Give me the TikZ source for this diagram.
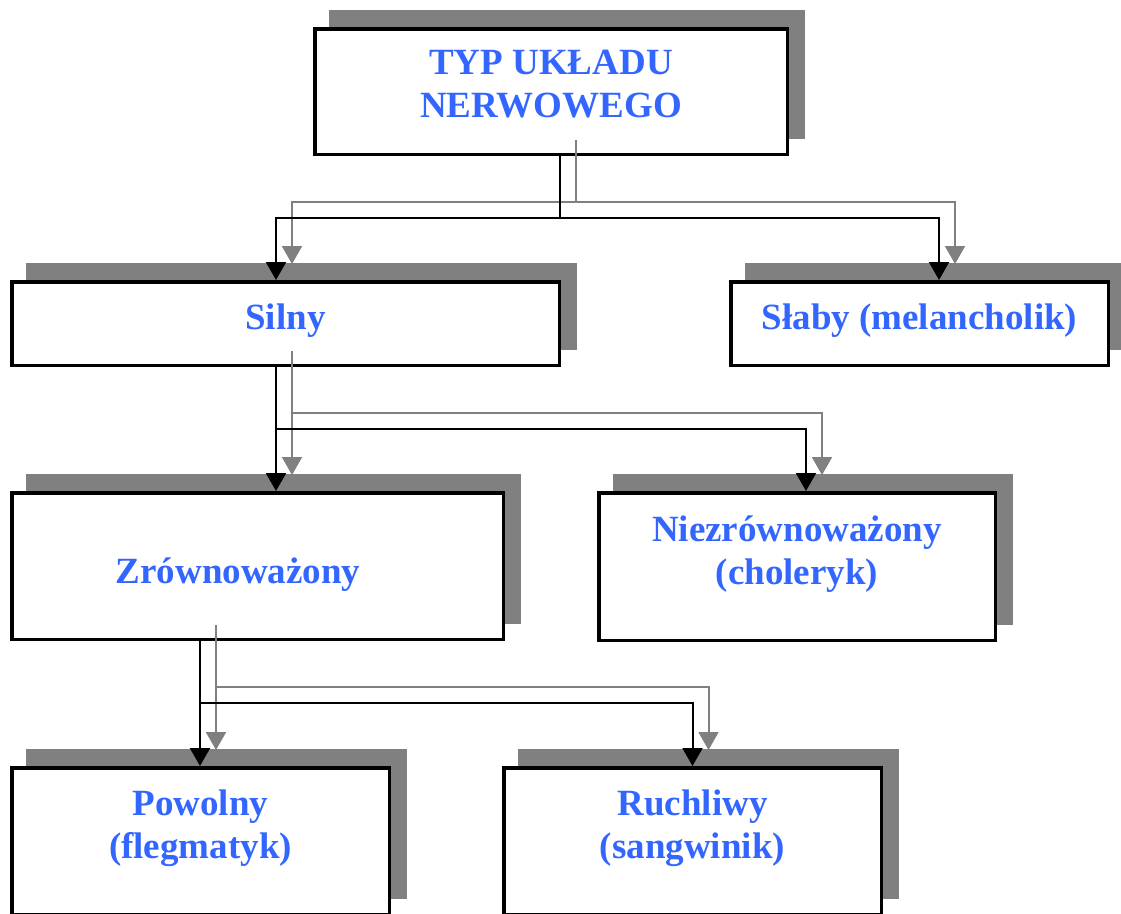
\documentclass[tikz,border=0pt]{standalone}
\usepackage{fontspec}
\setmainfont{Liberation Serif}
\usetikzlibrary{arrows.meta,shadows}
\definecolor{labelblue}{HTML}{3366FF}

\begin{document}
\begin{tikzpicture}[x=1pt,y=-1pt,
  box/.style={draw,line width=3.5pt,fill=white,inner sep=0pt,
    drop shadow={shadow xshift=16pt,shadow yshift=17pt,fill=gray,draw=gray,opacity=1}},
  txt/.style={align=center,inner sep=0pt,text=labelblue,
    font=\fontsize{37}{43}\selectfont\bfseries},
  link/.style={line width=2pt,-{Triangle[width=20pt,length=18pt]}},
  link shade/.style={link,gray,transform canvas={shift={(16pt,16pt)}}}]
\useasboundingbox (0,0) rectangle (1121,913);
\clip (0,0) rectangle (1121,913);
\node[box,minimum width=472.5pt,minimum height=125.5pt] (typ) at (551,91.5) {};
\node[txt] (typ-t) at ([yshift=7pt]typ.center) {TYP UKŁADU\\NERWOWEGO};
\node[box,minimum width=547.5pt,minimum height=83.5pt] (silny) at (285.5,323.5) {};
\node[txt] (silny-t) at ([yshift=3pt]silny.center) {Silny};
\node[box,minimum width=377.5pt,minimum height=83.5pt] (slaby) at (919.5,323.5) {};
\node[txt] (slaby-t) at ([yshift=3pt]slaby.center) {Słaby (melancholik)};
\node[box,minimum width=491.5pt,minimum height=146.5pt] (zrow) at (257.5,566) {};
\node[txt] (zrow-t) at ([xshift=-19.5pt,yshift=-9pt]zrow.center) {Zrównoważony};
\node[box,minimum width=396.5pt,minimum height=147.5pt] (niez) at (797,566.5) {};
\node[txt] (niez-t) at ([yshift=12pt]niez.center) {Niezrównoważony\\(choleryk)};
\node[box,minimum width=377.5pt,minimum height=146.5pt] (powol) at (200.5,841) {};
\node[txt] (powol-t) at ([yshift=13pt]powol.center) {Powolny\\(flegmatyk)};
\node[box,minimum width=377.5pt,minimum height=146.5pt] (ruch) at (692.5,841) {};
\node[txt] (ruch-t) at ([yshift=13pt]ruch.center) {Ruchliwy\\(sangwinik)};
\coordinate (j1) at (560,218);
\coordinate (j2) at (276,429);
\coordinate (j3) at (200,703);
\draw[link shade] ([xshift=9pt]typ.south) -- (j1) -| ([xshift=-9.5pt]silny.north);
\draw[link shade] (j1) -| ([xshift=19.5pt]slaby.north);
\draw[link shade] ([xshift=-9.5pt]silny.south) -- (j2) -- ([xshift=18.5pt]zrow.north);
\draw[link shade] (j2) -| ([xshift=9pt]niez.north);
\draw[link shade] ([xshift=-57.5pt]zrow.south) -- (j3) -- ([xshift=-0.5pt]powol.north);
\draw[link shade] (j3) -| (ruch.north);
\draw[link] ([xshift=9pt]typ.south) -- (j1) -| ([xshift=-9.5pt]silny.north);
\draw[link] (j1) -| ([xshift=19.5pt]slaby.north);
\draw[link] ([xshift=-9.5pt]silny.south) -- (j2) -- ([xshift=18.5pt]zrow.north);
\draw[link] (j2) -| ([xshift=9pt]niez.north);
\draw[link] ([xshift=-57.5pt]zrow.south) -- (j3) -- ([xshift=-0.5pt]powol.north);
\draw[link] (j3) -| (ruch.north);
\end{tikzpicture}
\end{document}
